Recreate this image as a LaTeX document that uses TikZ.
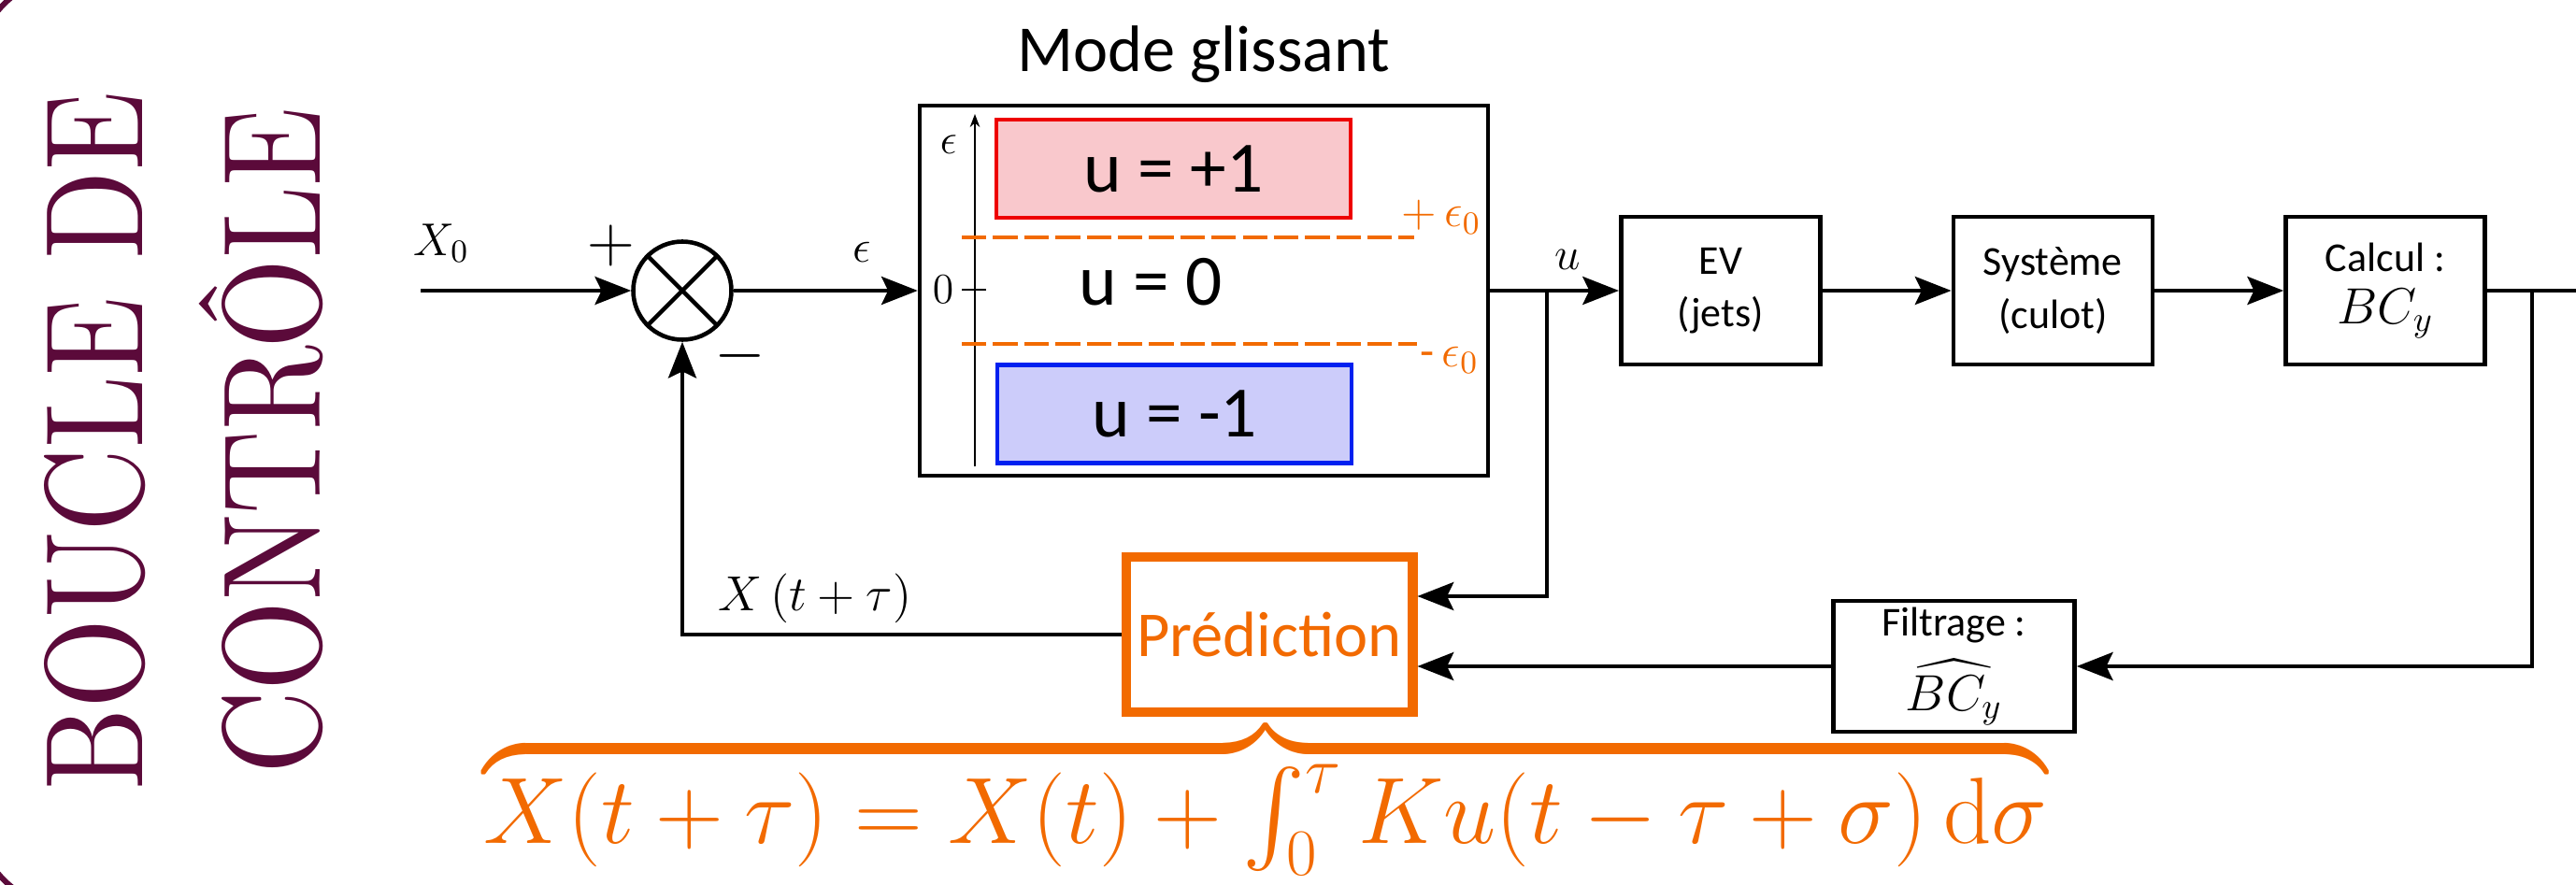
\RequirePackage{fix-cm}
\documentclass[tikz,border=0pt]{standalone}
\usepackage{amsmath,amssymb}
\usepackage{graphicx}
\usepackage[no-math]{fontspec}
\setmainfont{Carlito}
\newfontfamily\titleface{lmroman10-regular}[Extension=.otf]
\usetikzlibrary{arrows.meta,positioning,calc}
\definecolor{titlepurple}{RGB}{91,10,58}
\definecolor{orng}{RGB}{242,106,0}
\definecolor{posfill}{RGB}{249,200,204}
\definecolor{posdraw}{RGB}{238,0,0}
\definecolor{negfill}{RGB}{204,204,250}
\definecolor{negdraw}{RGB}{0,32,240}
\newcommand{\titlefnt}{\titleface\fontsize{42.4}{50}\selectfont}
\newcommand{\blkmath}[1]{{\fontsize{15.5}{16}\selectfont$#1$}}

\begin{document}
\begin{tikzpicture}[
  blk/.style={rectangle, draw, line width=1.3pt, minimum width=2.13cm,
              minimum height=1.58cm, align=center, inner sep=2pt,
              font=\fontsize{12.5}{16}\selectfont},
  junc/.style={circle, draw, line width=1.3pt, minimum size=1.05cm,
               inner sep=0pt},
  arr/.style={draw,-{Stealth[length=11pt,width=8.5pt,inset=2pt]},
              line width=1.3pt},
  wire/.style={draw,line width=1.3pt},
  lbl/.style={font=\fontsize{14}{17}\selectfont},
  sgn/.style={font=\fontsize{20}{24}\selectfont},
  zone/.style={rectangle, draw, line width=1.2pt, minimum width=3.79cm,
               minimum height=1.05cm, font=\fontsize{22}{26}\selectfont},
  thr/.style={draw=orng, line width=1pt, dash pattern=on 7.5pt off 2pt},
  node distance=1.38cm
]
\useasboundingbox (0,0) rectangle (27.56,9.46);
% frame
\begin{scope}
  \clip (0,0) rectangle (27.56,9.46);
  \draw[titlepurple, line width=1.7pt, rounded corners=1cm]
    (-0.25,-0.25) rectangle (30,9.71);
\end{scope}
% title
\node[rotate=90, anchor=base, text=titlepurple, font=\titlefnt] (t1)
  at (1.52,4.74) {\scalebox{0.83}[1]{BOUCLE DE}};
\node[rotate=90, anchor=base, text=titlepurple, font=\titlefnt] (t2)
  at (3.42,4.74) {\scalebox{0.83}[1]{CONTRÔLE}};
% forward chain
\coordinate (in) at (4.50,6.35);
\node[junc] (sum) at (7.30,6.35) {};
\draw[line width=1.3pt] (sum.45) -- (sum.225) (sum.135) -- (sum.315);
\node[rectangle, draw, line width=1.2pt, minimum width=6.08cm,
      minimum height=3.96cm, right=1.97cm of sum] (smc) {};
\node[blk, right=1.38cm of smc] (ev)  {EV\\(jets)};
\node[blk, right=of ev]         (sys) {Système\\(culot)};
\node[blk, right=of sys]        (calc) {Calcul :\\\blkmath{BC_y}};
\coordinate (out) at (27.70,6.35);
\node[font=\fontsize{20}{24}\selectfont, anchor=base] (smtitle)
  at ($(smc.north)+(0,0.34)$) {Mode glissant};
% sliding mode zones
\node[zone, fill=posfill, draw=posdraw] (upos) at (12.555,7.655) {u = +1};
\node[zone, fill=negfill, draw=negdraw] (uneg) at (12.565,5.03) {u = -1};
\node[font=\fontsize{22}{26}\selectfont, anchor=base] (uzero)
  at (12.31,6.20) {u = 0};
\draw[-{Stealth[length=4pt,width=3pt]}, line width=0.5pt]
  (10.43,4.47) -- (10.43,8.24);
\draw[line width=0.5pt] (10.29,6.36) -- (10.55,6.36);
\node[font=\fontsize{13}{15}\selectfont] (eaxis) at (10.15,7.91) {$\epsilon$};
\node[font=\fontsize{13}{15}\selectfont] (zero) at (10.09,6.36) {$0$};
\draw[thr] (10.29,6.92) -- (15.13,6.92);
\draw[thr] (10.29,5.78) -- (15.16,5.78);
\node[font=\fontsize{14}{16}\selectfont, text=orng, anchor=base west,
      inner sep=0pt] (ep) at (14.99,7.03) {$+\,\epsilon_0$};
\node[font=\fontsize{14}{16}\selectfont, text=orng, anchor=base west,
      inner sep=0pt] (em) at (15.19,5.54) {-\,$\epsilon_0$};
% feedback blocks
\node[rectangle, draw=orng, line width=2.85pt, minimum width=3.06cm,
      minimum height=1.66cm, text=orng,
      font=\fontsize{19.5}{23}\selectfont] (pred) at (13.58,2.67) {Prédiction};
\node[blk, minimum width=2.58cm, minimum height=1.38cm] (filt)
  at (20.905,2.33) {Filtrage :\\[4pt]\blkmath{\widehat{BC_y}}};
% connectors
\draw[arr] (in) -- (sum.west);
\draw[arr] (sum.east) -- (smc.west);
\draw[arr] (smc.east) -- (ev.west);
\draw[arr] (ev) -- (sys);
\draw[arr] (sys) -- (calc);
\draw[wire] (calc.east) -- (out);
\coordinate (ub) at (16.55,6.35);
\coordinate (bb) at (27.09,6.35);
\draw[arr] (ub) |- ([yshift=0.41cm]pred.east);
\draw[arr] (bb) |- (filt.east);
\draw[arr] (filt.west) -- (filt.west -| pred.east);
\draw[arr] (pred.west) -| (sum.south);
% labels
\node[lbl] (x0) at (4.72,6.86) {$X_0$};
\node[sgn] (plus) at (6.54,6.83) {$+$};
\node[sgn] (minus) at (7.92,5.65) {$-$};
\node[lbl] (eps) at (9.22,6.76) {$\epsilon$};
\node[lbl] (u) at (16.77,6.68) {$u$};
\node[font=\fontsize{15}{18}\selectfont] (xt) at (8.72,3.06)
  {$X\left(t+\tau\right)$};
% prediction law
\node[text=orng, font=\fontsize{28.7}{34}\selectfont, anchor=base] (law)
  at (13.54,0.44)
  {$\overbrace{\textstyle X(t+\tau) = X(t) + \int_0^\tau K u(t-\tau+\sigma)\,\mathrm{d}\sigma}$};
\end{tikzpicture}
\end{document}
